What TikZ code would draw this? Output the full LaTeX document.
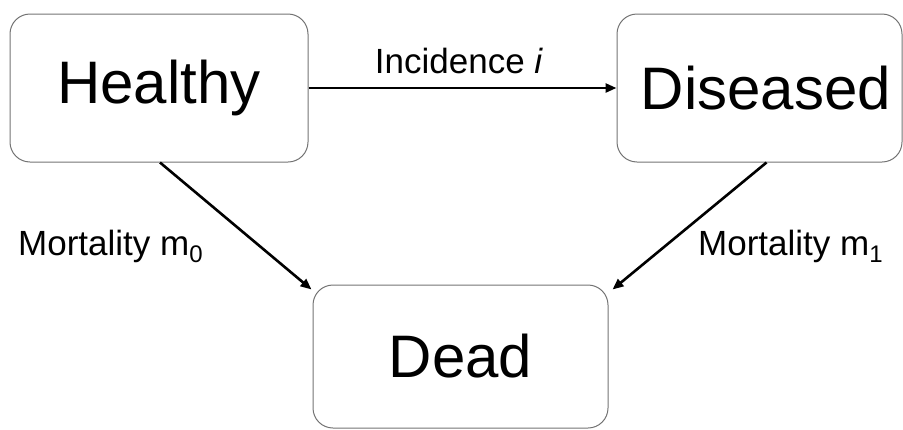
\documentclass[tikz,border=0pt]{standalone}
\usepackage{fontspec}
\setmainfont{Liberation Sans}
\usetikzlibrary{arrows.meta}
\newcommand{\mysub}[1]{\raisebox{-7pt}{\fontsize{24}{24}\selectfont #1}}
\begin{document}
\begin{tikzpicture}[x=1pt,y=-1pt,
  box/.style={draw=black!55, line width=1pt, rounded corners=20pt, inner sep=0pt,
    font=\fontsize{60}{72}\selectfont},
  lbl/.style={inner sep=0pt, font=\fontsize{35}{42}\selectfont},
  conn/.style={line width=2.6pt, -{Triangle[length=11pt,width=9pt]}}]
\useasboundingbox (0,0) rectangle (903,429);
\node[box, minimum width=298pt, minimum height=148pt] (Healthy) at (159,88) {Healthy};
\node[box, minimum width=285pt, minimum height=148pt] (Diseased) at (759.5,88) {\hspace*{13pt}Diseased};
\node[box, minimum width=295pt, minimum height=143pt] (Dead) at (460.5,356.5) {Dead};
\draw[conn] (Healthy.east) -- (Diseased.west);
\draw[conn] ([xshift=1pt]Healthy.south) -- ([xshift=-1pt,yshift=-5pt]Dead.north west);
\draw[conn] ([xshift=7pt]Diseased.south) -- ([xshift=4pt,yshift=-5pt]Dead.north east);
\node[lbl, anchor=base] (inc) at (459,73) {Incidence \textit{i}};
\node[lbl, anchor=base west] (m0) at (18,255) {Mortality m\mysub{0}};
\node[lbl, anchor=base west] (m1) at (698,255) {Mortality m\mysub{1}};
\end{tikzpicture}
\end{document}
